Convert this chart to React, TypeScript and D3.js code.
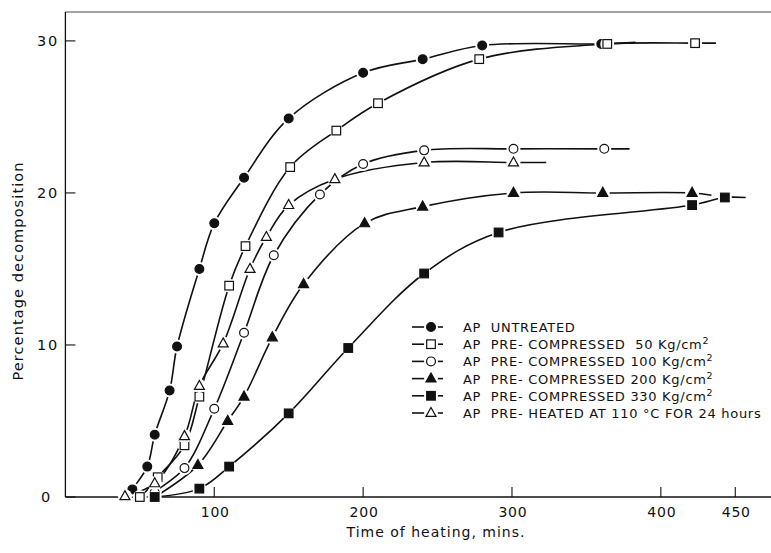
import React from "react";
import * as d3 from "d3";

// ---- data (time in minutes, percentage decomposition) ----
const untreatedT = [45, 55, 60, 70, 75, 90, 100, 120, 150, 200, 240, 280, 360];
const untreatedV = [0.5, 2, 4.1, 7, 9.9, 15, 18, 21, 24.9, 27.9, 28.8, 29.7, 29.8];
const pc50T = [50, 62, 80, 90, 110, 121, 151, 182, 210, 278, 364, 423];
const pc50V = [0, 1.3, 3.4, 6.6, 13.9, 16.5, 21.7, 24.1, 25.9, 28.8, 29.8, 29.85];
const pc100T = [60, 80, 100, 120, 140, 171, 200, 241, 301, 362];
const pc100V = [0.3, 1.9, 5.8, 10.8, 15.9, 19.9, 21.9, 22.8, 22.9, 22.9];
const pc200T = [89, 109, 120, 139, 160, 201, 240, 301, 361, 421];
const pc200V = [2.1, 5, 6.6, 10.5, 14, 18, 19.1, 20, 20, 20];
const pc330T = [60, 90, 110, 150, 190, 241, 291, 421, 443];
const pc330V = [0, 0.55, 2, 5.5, 9.8, 14.7, 17.4, 19.2, 19.7];
const heatedT = [40, 60, 80, 90, 106, 124, 135, 150, 181, 241, 301];
const heatedV = [0.05, 0.9, 4, 7.3, 10.1, 15, 17.1, 19.2, 20.9, 22, 22];

// where each drawn curve starts / ends beyond its markers [t, v]
const untreatedEnds = [[42, 0], [383, 29.9]];
const pc50Ends = [[48, 0], [437, 29.85]];
const pc100Ends = [[58, 0], [379, 22.9]];
const pc200Ends = [[60, 0], [434, 19.85]];
const pc330Ends = [[58, 0], [457, 19.7]];
const heatedEnds = [[38, 0], [323, 22]];

const legendLabels = [
  ["AP  UNTREATED", ""],
  ["AP  PRE- COMPRESSED  50 Kg/cm", "2"],
  ["AP  PRE- COMPRESSED 100 Kg/cm", "2"],
  ["AP  PRE- COMPRESSED 200 Kg/cm", "2"],
  ["AP  PRE- COMPRESSED 330 Kg/cm", "2"],
  ["AP  PRE- HEATED AT 110 °C FOR 24 hours", ""],
];

const xTicks = [100, 200, 300, 400, 450];
const yTicks = [0, 10, 20, 30];

type Shape = "circleF" | "squareO" | "circleO" | "triF" | "squareF" | "triO";
const series: { t: number[]; v: number[]; ends: number[][]; shape: Shape }[] = [
  { t: untreatedT, v: untreatedV, ends: untreatedEnds, shape: "circleF" },
  { t: pc50T, v: pc50V, ends: pc50Ends, shape: "squareO" },
  { t: pc100T, v: pc100V, ends: pc100Ends, shape: "circleO" },
  { t: pc200T, v: pc200V, ends: pc200Ends, shape: "triF" },
  { t: pc330T, v: pc330V, ends: pc330Ends, shape: "squareF" },
  { t: heatedT, v: heatedV, ends: heatedEnds, shape: "triO" },
];

const INK = "#111";
const FONT = "'DejaVu Sans', sans-serif";

function Marker({ shape, x, y }: { shape: Shape; x: number; y: number }) {
  const filled = shape === "circleF" || shape === "triF" || shape === "squareF";
  const fill = filled ? INK : "#fff";
  const halo = <circle cx={x} cy={y} r={7} fill="#fff" />;
  let el: React.ReactNode = null;
  if (shape === "circleF" || shape === "circleO") {
    el = <circle cx={x} cy={y} r={4.4} fill={fill} stroke={INK} strokeWidth={1.2} />;
  } else if (shape === "squareF" || shape === "squareO") {
    el = <rect x={x - 4.3} y={y - 4.3} width={8.6} height={8.6} fill={fill} stroke={INK} strokeWidth={1.2} />;
  } else {
    const h = 9;
    el = (
      <path
        d={`M${x},${y - h * 0.62} L${x + 5},${y + h * 0.38} L${x - 5},${y + h * 0.38} Z`}
        fill={fill}
        stroke={INK}
        strokeWidth={1.2}
      />
    );
  }
  return (
    <g>
      {halo}
      {el}
    </g>
  );
}

export default function App() {
  const W = 771;
  const H = 553;
  const x = d3.scaleLinear().domain([0, 474]).range([65.4, 771]);
  const y = d3.scaleLinear().domain([0, 31.9]).range([497, 12]);
  const line = d3
    .line<number[]>()
    .x((d) => x(d[0]))
    .y((d) => y(d[1]))
    .curve(d3.curveCatmullRom.alpha(0.5));

  const legX = 431;
  const legY0 = 327;
  const legDy = 17.2;

  return (
    <svg width={W} height={H} style={{ position: "absolute", left: 0, top: 0, background: "#fff" }}>
      <rect width={W} height={H} fill="#fff" />
      {/* frame */}
      <line x1={x(0)} x2={W} y1={y(31.9)} y2={y(31.9)} stroke="#444" strokeWidth={1} />
      <line x1={x(0)} x2={x(0)} y1={y(31.9)} y2={y(0)} stroke={INK} strokeWidth={1.3} />
      <line x1={x(0)} x2={W} y1={y(0)} y2={y(0)} stroke={INK} strokeWidth={1.3} />
      {/* ticks */}
      {xTicks.map((t) => (
        <g key={"xt" + t}>
          <line x1={x(t)} x2={x(t)} y1={y(0)} y2={y(0) - 10} stroke={INK} strokeWidth={1.1} />
          <text x={x(t) + 1} y={517} textAnchor="middle" fontFamily={FONT} fontSize={14} fill={INK} letterSpacing={0.8}>
            {t}
          </text>
        </g>
      ))}
      {yTicks.map((v) => (
        <g key={"yt" + v}>
          <line x1={x(0)} x2={x(0) + 10} y1={y(v)} y2={y(v)} stroke={INK} strokeWidth={1.1} />
          <text
            x={v === 0 ? 52 : 59}
            y={y(v) + 5}
            textAnchor="end"
            fontFamily={FONT}
            fontSize={14.5}
            fill={INK}
            letterSpacing={1.8}
          >
            {v}
          </text>
        </g>
      ))}
      {/* axis titles */}
      <text x={436} y={537} textAnchor="middle" fontFamily={FONT} fontSize={14} fill={INK} letterSpacing={1}>
        Time of heating, mins.
      </text>
      <text
        transform={`translate(23, 271) rotate(-90)`}
        textAnchor="middle"
        fontFamily={FONT}
        fontSize={14.5}
        fill={INK}
        letterSpacing={1.1}
      >
        Percentage decomposition
      </text>
      {/* curves */}
      {series.map((s, i) => {
        const pts = [s.ends[0], ...s.t.map((t, j) => [t, s.v[j]]), s.ends[1]];
        return <path key={"l" + i} d={line(pts) || ""} fill="none" stroke={INK} strokeWidth={1.6} />;
      })}
      {/* markers */}
      {series.map((s, i) => (
        <g key={"m" + i}>
          {s.t.map((t, j) => (
            <Marker key={j} shape={s.shape} x={x(t)} y={y(s.v[j])} />
          ))}
        </g>
      ))}
      {/* legend */}
      {series.map((s, i) => {
        const ly = legY0 + i * legDy;
        return (
          <g key={"lg" + i}>
            <line x1={legX - 19} x2={legX + 12} y1={ly} y2={ly} stroke={INK} strokeWidth={1.6} />
            <Marker shape={s.shape} x={legX} y={ly} />
            <text
              x={463}
              y={ly + 5}
              fontFamily={FONT}
              fontSize={13}
              fill={INK}
              letterSpacing={0.7}
              style={{ whiteSpace: "pre" }}
            >
              {legendLabels[i][0]}
              {legendLabels[i][1] ? (
                <tspan dy={-5} fontSize={9.5}>
                  {legendLabels[i][1]}
                </tspan>
              ) : null}
            </text>
          </g>
        );
      })}
    </svg>
  );
}
